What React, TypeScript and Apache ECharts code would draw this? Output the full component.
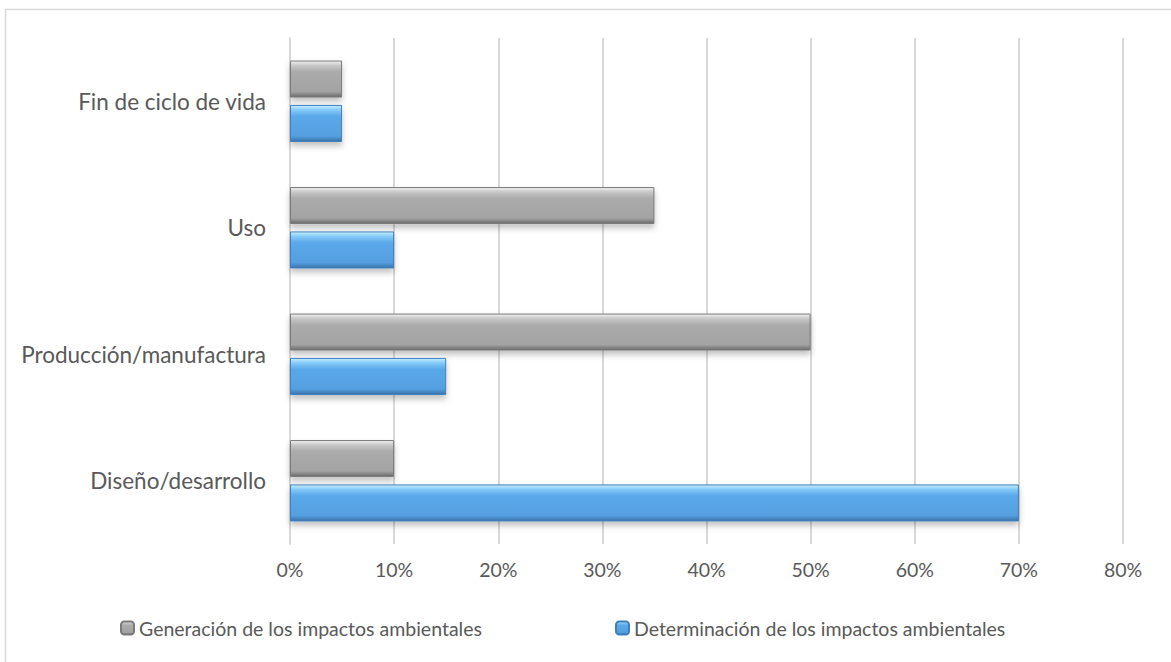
import React, { useEffect, useRef } from "react";
import * as echarts from "echarts";

const categories = ["Diseño/desarrollo", "Producción/manufactura", "Uso", "Fin de ciclo de vida"];
const generacion = [10, 50, 35, 5];
const determinacion = [70, 15, 10, 5];
const seriesNames = ["Generación de los impactos ambientales", "Determinación de los impactos ambientales"];

const FONT = "Lato, 'Open Sans', sans-serif";
const TEXT = "#595959";

export default function App() {
  const ref = useRef<HTMLDivElement>(null);
  useEffect(() => {
    if (!ref.current) return;
    const chart = echarts.init(ref.current, null, { renderer: "svg" });
    const grayFill = new echarts.graphic.LinearGradient(0, 0, 0, 1, [
      { offset: 0, color: "#f2f2f2" },
      { offset: 0.12, color: "#c8c8c8" },
      { offset: 0.3, color: "#ababab" },
      { offset: 0.85, color: "#a3a3a3" },
      { offset: 1, color: "#6a6a6a" },
    ]);
    const blueFill = new echarts.graphic.LinearGradient(0, 0, 0, 1, [
      { offset: 0, color: "#c8f0ff" },
      { offset: 0.12, color: "#86cbf9" },
      { offset: 0.3, color: "#5aa8ea" },
      { offset: 0.85, color: "#559fe0" },
      { offset: 1, color: "#3a72a8" },
    ]);
    const legendText = { color: TEXT, fontSize: 19.5, fontFamily: FONT };
    chart.setOption({
      animation: false,
      backgroundColor: "#ffffff",
      textStyle: { fontFamily: FONT },
      graphic: [
        {
          type: "rect",
          shape: { x: 5.5, y: 9.5, width: 1300, height: 800 },
          style: { fill: "none", stroke: "#d9d9d9", lineWidth: 1.5 },
          silent: true,
        },
      ],
      grid: { left: 290, right: 48, top: 38, bottom: 118, containLabel: false },
      legend: [
        {
          data: [seriesNames[0]],
          left: 115,
          top: 613,
          itemWidth: 13,
          itemHeight: 13,
          itemGap: 4,
          textStyle: legendText,
        },
        {
          data: [seriesNames[1]],
          left: 610,
          top: 613,
          itemWidth: 13,
          itemHeight: 13,
          itemGap: 4,
          textStyle: legendText,
        },
      ],
      xAxis: {
        type: "value",
        min: 0,
        max: 80,
        interval: 10,
        axisLabel: { formatter: "{value}%", color: TEXT, fontSize: 19.5, margin: 15, fontFamily: FONT },
        splitLine: { show: true, lineStyle: { color: "#d9d9d9", width: 2 } },
        axisLine: { show: false },
        axisTick: { show: false },
      },
      yAxis: {
        type: "category",
        data: categories,
        axisLabel: { color: TEXT, fontSize: 22.5, margin: 24, fontFamily: FONT },
        axisLine: { show: true, lineStyle: { color: "#d9d9d9", width: 2 } },
        axisTick: { show: false },
      },
      series: [
        {
          name: seriesNames[0],
          type: "bar",
          data: generacion,
          barWidth: 37,
          barGap: "20%",
          itemStyle: {
            color: grayFill,
            borderColor: "#7a7a7a",
            borderWidth: 1,
            shadowColor: "rgba(0,0,0,0.25)",
            shadowBlur: 6,
            shadowOffsetY: 4,
          },
        },
        {
          name: seriesNames[1],
          type: "bar",
          data: determinacion,
          barWidth: 37,
          barGap: "20%",
          itemStyle: {
            color: blueFill,
            borderColor: "#3f7fbf",
            borderWidth: 1,
            shadowColor: "rgba(0,0,0,0.25)",
            shadowBlur: 6,
            shadowOffsetY: 4,
          },
        },
      ],
    });
    return () => chart.dispose();
  }, []);
  return (
    <div
      ref={ref}
      style={{ position: "fixed", left: 0, top: 0, width: 1171, height: 662, background: "#fff" }}
    />
  );
}
